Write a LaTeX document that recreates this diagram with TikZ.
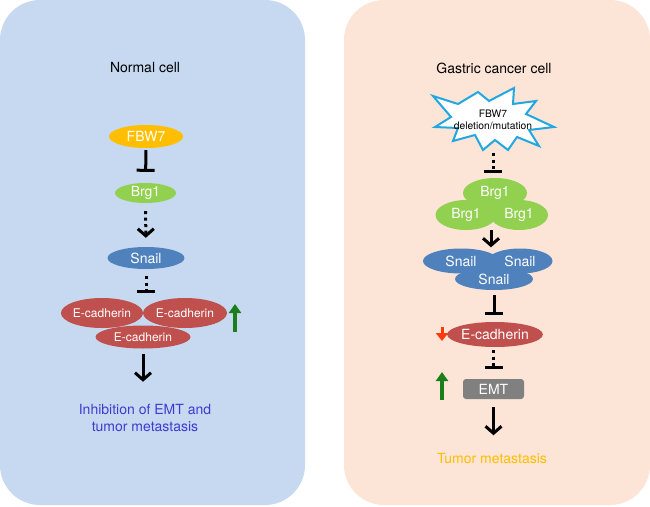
\documentclass[tikz,border=0pt]{standalone}
\usepackage{fontspec}
\setmainfont{TeX Gyre Heros}
\usetikzlibrary{arrows.meta, shapes.geometric}

\definecolor{leftbg}{HTML}{C6D9F0}
\definecolor{rightbg}{HTML}{FCE4D6}
\definecolor{fbworange}{HTML}{FFBF00}
\definecolor{brggreen}{HTML}{92D050}
\definecolor{snailblue}{HTML}{4F81BD}
\definecolor{cadred}{HTML}{C0504D}
\definecolor{emtgray}{HTML}{808080}
\definecolor{starblue}{HTML}{22A7E0}
\definecolor{textblue}{HTML}{3C3CD2}
\definecolor{upgreen}{HTML}{1A7F1A}
\definecolor{downred}{HTML}{FF3A0A}

\begin{document}
\begin{tikzpicture}[x=1pt, y=-1pt]
  \tikzstyle{cell}=[ellipse, inner sep=0pt, text=white, font=\fontsize{14}{16}\selectfont]
  \tikzstyle{act}=[-{Straight Barb[length=7pt,width=16pt]}, line width=3pt]
  \tikzstyle{inh}=[-{Bar[width=18pt]}, line width=3pt]
  \tikzstyle{dots}=[dash pattern=on 3pt off 3.5pt]
  \tikzstyle{big}=[font=\fontsize{14}{17}\selectfont, align=center]

  \useasboundingbox (0,0) rectangle (650,506);
  \fill[leftbg, rounded corners=40pt] (0,0) rectangle (305,505); % Left panel
  \fill[rightbg, rounded corners=40pt] (344,0) rectangle (650,505); % Right panel

  % Normal cell
  \node[big] (A) at (145, 68) {Normal cell};
  \node[cell, fill=fbworange, minimum width=74pt, minimum height=23pt] (B) at (146, 136.5) {FBW7};
  \node[cell, fill=brggreen, minimum width=61pt, minimum height=20pt] (C) at (145.5, 193) {Brg1};
  \node[cell, fill=snailblue, minimum width=77pt, minimum height=22pt] (D) at (146, 258) {Snail};
  \node[cell, fill=cadred, minimum width=81pt, minimum height=30pt, font=\fontsize{12}{14}\selectfont] (E1) at (102, 313) {E-cadherin};
  \node[cell, fill=cadred, minimum width=84pt, minimum height=30pt, font=\fontsize{12}{14}\selectfont] (E2) at (185, 313) {E-cadherin};
  \node[cell, fill=cadred, minimum width=95pt, minimum height=23pt, font=\fontsize{12}{14}\selectfont] (E3) at (143, 337) {E-cadherin};
  \node[big, text=textblue] (F) at (145, 418) {Inhibition of EMT and\\tumor metastasis};
  \draw[inh, shorten <=2pt, shorten >=11pt] (B) -- (C); % FBW7 to Brg1
  \draw[act, dots, shorten <=8pt, shorten >=9pt] (C) -- (D); % Brg1 to Snail
  \draw[inh, dots, shorten <=7pt, shorten >=5pt] (D) -- (D |- E1.north); % Snail to E-cadherin
  \draw[act, shorten <=5pt, shorten >=19pt] (E3) -- (E3 |- F.north); % E-cadherin to text
  \coordinate (G1) at (235, 332);
  \coordinate (G2) at (235, 304);
  \draw[-{Triangle[length=9pt,width=12pt]}, line width=4pt, upgreen] (G1) -- (G2); % Up arrow

  % Gastric cancer cell
  \node[big] (K) at (494, 68) {Gastric cancer cell};
  \draw[starblue, fill=white, line width=2pt, line join=miter]
    (433,96) -- (458,104) -- (478,92) -- (489,101) -- (514,88) -- (513,104)
    -- (536,101) -- (526,114) -- (554,127) -- (529,130) -- (539,146) -- (517,137)
    -- (508,150) -- (495,140) -- (483,150) -- (475,135) -- (453,141) -- (458,128)
    -- (435,127) -- (451,117) -- cycle; % Star
  \node[align=center, font=\fontsize{10.3}{12.5}\selectfont] (L) at (493, 120) {FBW7\\deletion/mutation};
  \coordinate (L2) at (493, 151);
  \node[cell, fill=brggreen, minimum width=64pt, minimum height=30pt] (M1) at (495, 193) {Brg1};
  \node[cell, fill=brggreen, minimum width=61pt, minimum height=30pt] (M2) at (466, 215) {Brg1};
  \node[cell, fill=brggreen, minimum width=58pt, minimum height=30pt] (M3) at (519, 215) {Brg1};
  \node[cell, fill=snailblue, minimum width=76pt, minimum height=25pt] (N1) at (461, 261) {Snail};
  \node[cell, fill=snailblue, minimum width=65pt, minimum height=25pt] (N2) at (520, 261) {Snail};
  \node[cell, fill=snailblue, minimum width=78pt, minimum height=22pt] (N3) at (494, 279) {Snail};
  \node[cell, fill=cadred, minimum width=95pt, minimum height=25pt] (P) at (495, 334.5) {E-cadherin};
  \node[rectangle, rounded corners=3pt, fill=emtgray, text=white, minimum width=61pt, minimum height=20pt,
        inner sep=0pt, font=\fontsize{14}{16}\selectfont] (Q) at (493.5, 389) {\raisebox{-3pt}{EMT}};
  \node[big, text=fbworange] (R) at (492, 458) {Tumor metastasis};
  \draw[inh, dots, shorten <=2pt, shorten >=5pt] (L2) -- (L2 |- M1.north); % Star to Brg1
  \coordinate (M4) at (491, 230);
  \draw[act, shorten >=1pt] (M4) -- (M4 |- N1.north); % Brg1 to Snail
  \draw[inh, shorten <=5pt, shorten >=7pt] (N3) -- (N3 |- P.north); % Snail to E-cadherin
  \draw[inh, dots, shorten <=3pt, shorten >=10pt] (P.south -| Q) -- (Q.north); % E-cadherin to EMT
  \draw[act, shorten <=8pt, shorten >=14pt] (Q.south) -- (Q |- R.north); % EMT to text
  \coordinate (S1) at (442, 327);
  \coordinate (S2) at (442, 341);
  \draw[-{Triangle[length=8pt,width=12pt]}, line width=3pt, downred] (S1) -- (S2); % Down arrow
  \coordinate (T1) at (442, 400);
  \coordinate (T2) at (442, 372);
  \draw[-{Triangle[length=9pt,width=12pt]}, line width=4pt, upgreen] (T1) -- (T2); % Up arrow
\end{tikzpicture}
\end{document}
